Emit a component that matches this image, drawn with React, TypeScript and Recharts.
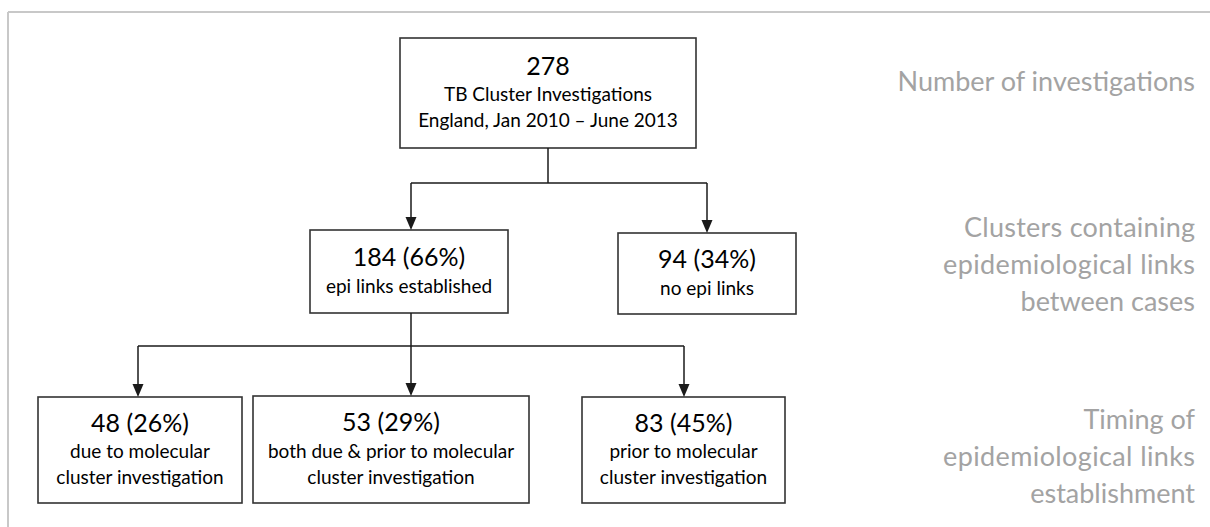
import React from "react";
import {
  ScatterChart,
  XAxis,
  YAxis,
  ReferenceArea,
  ReferenceLine,
  Scatter,
} from "recharts";

// flowchart content
const counts = [278, 184, 94, 48, 53, 83];
const percents: (number | null)[] = [null, 66, 34, 26, 29, 45];
const descriptions = [
  ["TB Cluster Investigations", "England, Jan 2010 \u2013 June 2013"],
  ["epi links established"],
  ["no epi links"],
  ["due to molecular", "cluster investigation"],
  ["both due & prior to molecular", "cluster investigation"],
  ["prior to molecular", "cluster investigation"],
];
const parents: (number | null)[] = [null, 0, 0, 1, 1, 1];
const levelLabels = [
  ["Number of investigations"],
  ["Clusters containing", "epidemiological links", "between cases"],
  ["Timing of", "epidemiological links", "establishment"],
];

// layout in pixel-like units (x: 0..1210, y: 0..527 top-down)
const W = 1210;
const H = 527;
const boxLayout = [
  { x1: 400, x2: 696, y1: 38, y2: 148, arrowX: 548 },
  { x1: 310, x2: 508, y1: 230, y2: 313, arrowX: 411 },
  { x1: 618, x2: 796, y1: 233, y2: 314, arrowX: 707 },
  { x1: 38, x2: 242, y1: 397, y2: 503, arrowX: 138 },
  { x1: 253, x2: 529, y1: 396, y2: 503, arrowX: 411 },
  { x1: 582, x2: 785, y1: 397, y2: 503, arrowX: 684 },
];
const busY = [183, 346];
const levelLabelLayout = [
  { x: 1195, y: 80, justify: [] as number[] },
  { x: 1195, y: 226, justify: [231, 252] },
  { x: 1195, y: 418, justify: [0, 252] },
];

const FONT = "Lato, 'Open Sans', sans-serif";
const LINE = "#1a1a1a";
const GRAY = "#a3a3a3";

const BoxShape = (props: any) => {
  const { x, y, width, height, idx } = props;
  const lines = descriptions[idx];
  const head = percents[idx] == null ? `${counts[idx]}` : `${counts[idx]} (${percents[idx]}%)`;
  const gapHead = 29;
  const gapLine = 26;
  const span = gapHead + (lines.length - 1) * gapLine;
  const cx = x + width / 2;
  const top = y + height / 2 - 1 - span / 2;
  return (
    <g>
      <rect x={x} y={y} width={width} height={height} fill="#fff" stroke="#333" strokeWidth={1.6} />
      <text x={cx} y={top} textAnchor="middle" dominantBaseline="central" fontFamily={FONT} fontSize={25} fill="#000">
        {head}
      </text>
      {lines.map((t, i) => (
        <text
          key={i}
          x={cx}
          y={top + gapHead + i * gapLine}
          textAnchor="middle"
          dominantBaseline="central"
          fontFamily={FONT}
          fontSize={19}
          fill="#000"
        >
          {t}
        </text>
      ))}
    </g>
  );
};

const Arrow = (props: any) => {
  const { cx, cy } = props;
  if (cx == null || cy == null) return null;
  return <path d={`M${cx},${cy} L${cx - 5.5},${cy - 13} L${cx + 5.5},${cy - 13} Z`} fill={LINE} />;
};

const LevelLabel = (props: any) => {
  const { cx, cy, payload } = props;
  if (cx == null || cy == null) return null;
  const level = payload.level;
  const lay = levelLabelLayout[level];
  return (
    <g>
      {levelLabels[level].map((t, i) => {
        const len = lay.justify[i];
        return (
          <text
            key={i}
            x={cx}
            y={cy + i * 37}
            textAnchor="end"
            dominantBaseline="central"
            fontFamily={FONT}
            fontSize={27}
            fill={GRAY}
            {...(len ? { textLength: len, lengthAdjust: "spacing" } : {})}
          >
            {t}
          </text>
        );
      })}
    </g>
  );
};

// connectors: parent -> bus -> child
const connectorSegments: { x1: number; y1: number; x2: number; y2: number }[] = [];
const arrowTips: { x: number; y: number }[] = [];
[0, 1].forEach((p, level) => {
  const kids = parents.map((q, i) => (q === p ? i : -1)).filter((i) => i >= 0);
  const pb = boxLayout[p];
  const by = busY[level];
  connectorSegments.push({ x1: pb.arrowX, y1: pb.y2, x2: pb.arrowX, y2: by });
  const xs = kids.map((k) => boxLayout[k].arrowX);
  connectorSegments.push({ x1: Math.min(...xs), y1: by, x2: Math.max(...xs), y2: by });
  kids.forEach((k) => {
    const b = boxLayout[k];
    connectorSegments.push({ x1: b.arrowX, y1: by, x2: b.arrowX, y2: b.y1 - 10 });
    arrowTips.push({ x: b.arrowX, y: b.y1 });
  });
});
const labelPoints = levelLabelLayout.map((l, i) => ({ x: l.x, y: l.y, level: i }));

export default function App() {
  return (
    <div style={{ position: "absolute", left: 0, top: 0, background: "#fff" }}>
      <ScatterChart width={W} height={H} margin={{ top: 0, right: 0, bottom: 0, left: 0 }}>
        <XAxis type="number" dataKey="x" domain={[0, W]} hide allowDataOverflow />
        <YAxis type="number" dataKey="y" domain={[0, H]} reversed hide allowDataOverflow />
        {/* frame */}
        <ReferenceLine segment={[{ x: 8, y: 12 }, { x: W, y: 12 }]} stroke="#c8c8c8" strokeWidth={2} ifOverflow="visible" />
        <ReferenceLine segment={[{ x: 8, y: 12 }, { x: 8, y: H }]} stroke="#c8c8c8" strokeWidth={2} ifOverflow="visible" />
        {connectorSegments.map((s, i) => (
          <ReferenceLine
            key={`c${i}`}
            segment={[{ x: s.x1, y: s.y1 }, { x: s.x2, y: s.y2 }]}
            stroke={LINE}
            strokeWidth={1.5}
            ifOverflow="visible"
          />
        ))}
        {boxLayout.map((b, i) => (
          <ReferenceArea
            key={`b${i}`}
            x1={b.x1}
            x2={b.x2}
            y1={b.y1}
            y2={b.y2}
            ifOverflow="visible"
            shape={(p: any) => <BoxShape {...p} idx={i} />}
          />
        ))}
        <Scatter data={arrowTips} shape={<Arrow />} isAnimationActive={false} />
        <Scatter data={labelPoints} shape={<LevelLabel />} isAnimationActive={false} />
      </ScatterChart>
    </div>
  );
}
